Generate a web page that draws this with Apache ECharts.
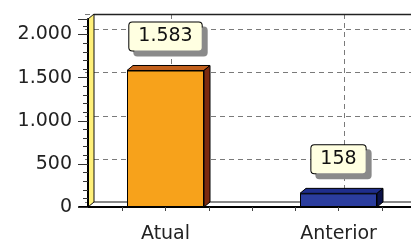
<!DOCTYPE html>
<html>
<head>
<meta charset="utf-8">
<script src="https://cdn.jsdelivr.net/npm/echarts@6/dist/echarts.min.js"></script>
<style>
  html, body { margin: 0; padding: 0; background: #fff; }
  #chart { width: 411px; height: 242px; }
</style>
</head>
<body>
<div id="chart"></div>
<script>
// dados do grafico
var categories = ['Atual', 'Anterior'];
var values = [1583, 158];
var yMax = 2180;
var yStep = 500;
// posicoes auxiliares p/ marcas menores do eixo x
var minorSteps = ['', '', '', '', '', '', '', '', ''];
var backSteps = ['', '', '', '', ''];

// cores das barras: frente, topo, lado
var faceColors = ['#F7A21B', '#2B3D9E'];
var topColors = ['#C2601C', '#1F2E8C'];
var sideColors = ['#7B2A10', '#0B1248'];

var FONT = 'DejaVu Sans';
var GL = 79, GW = 346, GT = 19, GB = 35;   // grade da frente
var DX = 6, DY = 5;                          // profundidade 3D
var BAR_W = 77;
var H = 242;

function fmt(v) {
    return String(Math.round(v)).replace(/\B(?=(\d{3})+(?!\d))/g, '.');
}

var chart = echarts.init(document.getElementById('chart'));

var axisX0 = GL + 9;          // eixo y da frente
var baseY = H - GB;           // eixo x da frente

var option = {
    backgroundColor: '#fff',
    animation: false,
    grid: [
        { left: GL, top: GT, width: GW, bottom: GB, outerBoundsMode: 'none' },
        { left: GL + DX, top: GT - DY, width: GW, bottom: GB + DY, outerBoundsMode: 'none' }
    ],
    xAxis: [{
        type: 'category',
        gridIndex: 0,
        data: categories,
        z: 3,
        axisLine: { lineStyle: { color: '#000', width: 2 } },
        axisTick: { alignWithLabel: true, length: 8, lineStyle: { color: '#333' } },
        axisLabel: { color: '#222', fontFamily: FONT, fontSize: 19, margin: 18 },
        splitLine: { show: false }
    }, {
        type: 'category',
        gridIndex: 0,
        position: 'bottom',
        boundaryGap: false,
        data: minorSteps,
        z: 3,
        axisLine: { show: false },
        axisTick: {
            length: 4,
            interval: function (i) { return i > 0; },
            lineStyle: { color: '#444' }
        },
        axisLabel: { show: false },
        splitLine: { show: false }
    }, {
        type: 'category',
        gridIndex: 1,
        position: 'top',
        boundaryGap: false,
        data: backSteps,
        axisLine: { show: false },
        axisTick: {
            length: 3,
            interval: function (i) { return i === 1 || i === 3; },
            lineStyle: { color: '#555' }
        },
        axisLabel: { show: false },
        splitLine: {
            show: true,
            interval: function (i) { return i === 1 || i === 3; },
            lineStyle: { color: '#7a7a7a', type: [5, 4], width: 1 }
        }
    }],
    yAxis: [{
        type: 'value',
        gridIndex: 0,
        min: 0,
        max: yMax,
        interval: yStep,
        offset: -9,
        z: 3,
        axisLine: { show: true, lineStyle: { color: '#000', width: 2 } },
        axisTick: { show: true, length: 10, lineStyle: { color: '#333' } },
        minorTick: { show: true, splitNumber: 5, length: 5, lineStyle: { color: '#333' } },
        axisLabel: {
            color: '#222', fontFamily: FONT, fontSize: 19, margin: 16,
            showMaxLabel: false,
            formatter: fmt
        },
        splitLine: { show: false }
    }, {
        type: 'value',
        gridIndex: 1,
        min: 0,
        max: yMax,
        interval: yStep,
        axisLine: { show: false },
        axisTick: { show: false },
        axisLabel: { show: false },
        splitLine: { show: true, lineStyle: { color: '#7a7a7a', type: [5, 4], width: 1 } }
    }],
    graphic: [{
        // piso
        type: 'polygon',
        z: 1,
        shape: { points: [[axisX0, baseY], [axisX0 + DX, baseY - DY], [H * 2, baseY - DY], [H * 2, baseY]] },
        style: { fill: '#fff', stroke: null }
    }, {
        type: 'line',
        z: 1,
        shape: { x1: axisX0 + DX, y1: baseY - DY, x2: 411, y2: baseY - DY },
        style: { stroke: '#111', lineWidth: 1 }
    }, {
        // moldura superior
        type: 'line',
        z: 1,
        shape: { x1: axisX0 + DX, y1: GT - DY + 0.5, x2: 411, y2: GT - DY + 0.5 },
        style: { stroke: '#222', lineWidth: 1.5 }
    }, {
        // parede lateral amarela
        type: 'polygon',
        z: 1,
        shape: { points: [[axisX0, baseY], [axisX0, GT], [axisX0 + DX, GT - DY], [axisX0 + DX, baseY - DY]] },
        style: { fill: '#FFF07A', stroke: '#111', lineWidth: 1 }
    }],
    series: [{
        type: 'custom',
        xAxisIndex: 0,
        yAxisIndex: 0,
        z: 2,
        silent: true,
        data: values.map(function (v, i) { return [categories[i], v]; }),
        renderItem: function (params, api) {
            var i = params.dataIndex;
            var top = api.coord([api.value(0), api.value(1)]);
            var base = api.coord([api.value(0), 0]);
            var l = top[0] - BAR_W / 2, r = top[0] + BAR_W / 2;
            var t = top[1], b = base[1];
            return {
                type: 'group',
                children: [{
                    type: 'polygon',
                    shape: { points: [[l, t], [l + DX, t - DY], [r + DX, t - DY], [r, t]] },
                    style: { fill: topColors[i], stroke: '#000', lineWidth: 1 }
                }, {
                    type: 'polygon',
                    shape: { points: [[r, t], [r + DX, t - DY], [r + DX, b - DY], [r, b]] },
                    style: { fill: sideColors[i], stroke: '#000', lineWidth: 1 }
                }]
            };
        }
    }, {
        type: 'bar',
        xAxisIndex: 0,
        yAxisIndex: 0,
        z: 3,
        barWidth: BAR_W,
        data: values.map(function (v, i) {
            return { value: v, itemStyle: { color: faceColors[i] } };
        }),
        itemStyle: { borderColor: '#000', borderWidth: 1 },
        label: {
            show: true,
            position: 'top',
            distance: 20,
            formatter: function (p) { return fmt(p.value); },
            color: '#111',
            fontFamily: FONT,
            fontSize: 19,
            lineHeight: 20,
            backgroundColor: '#FFFFE1',
            borderColor: '#000',
            borderWidth: 1,
            borderRadius: 3,
            padding: [4, 9],
            shadowColor: '#8a8a8a',
            shadowOffsetX: 5,
            shadowOffsetY: 5,
            shadowBlur: 0
        }
    }]
};

chart.setOption(option);
</script>
</body>
</html>
